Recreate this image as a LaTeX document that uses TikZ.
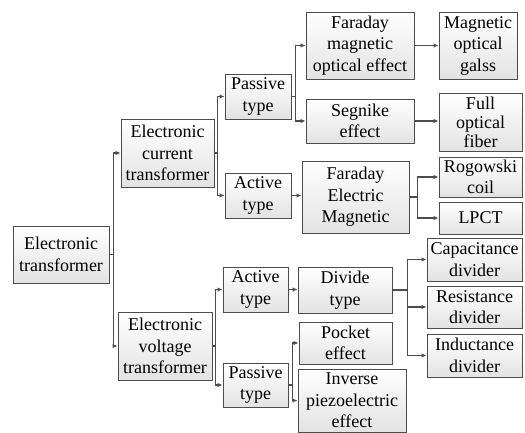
\documentclass[tikz,border=0pt]{standalone}
\usepackage{fontspec}
\setmainfont{Liberation Serif}
\usetikzlibrary{arrows.meta}

\begin{document}
\begin{tikzpicture}
        [x=1pt,y=-1pt,
         box/.style={draw=black!70,line width=0.9pt,top color=white,bottom color=black!11,
                     inner sep=0pt,align=center,font=\rmfamily\fontsize{18}{21.5}\selectfont},
         conn/.style={draw=black!70,line width=1.3pt,-{Latex[length=5pt,width=4.5pt]}}]
        \useasboundingbox (0,0) rectangle (525,433);

        \node[box,minimum width=96pt,minimum height=57pt] (et) at (61,254.5) {Electronic\\transformer};
        \node[box,minimum width=93pt,minimum height=68pt] (ect) at (167.5,153) {Electronic\\current\\transformer};
        \node[box,minimum width=94pt,minimum height=68pt] (evt) at (165,346) {Electronic\\voltage\\transformer};

        \node[box,minimum width=66pt,minimum height=45pt] (pas1) at (258,96.5) {Passive\\type};
        \node[box,minimum width=66pt,minimum height=45pt] (act1) at (258,195.5) {Active\\type};
        \node[box,minimum width=65pt,minimum height=45pt] (act2) at (255.5,289.5) {Active\\type};
        \node[box,minimum width=65pt,minimum height=44pt] (pas2) at (255.5,385) {Passive\\type};

        \node[box,minimum width=108pt,minimum height=67pt] (fmo) at (360,45.5) {Faraday\\magnetic\\optical effect};
        \node[box,minimum width=108pt,minimum height=44pt] (seg) at (360,121) {Segnike\\effect};
        \node[box,minimum width=107pt,minimum height=72pt] (fem) at (355.5,197) {Faraday\\Electric\\Magnetic};
        \node[box,minimum width=94pt,minimum height=46pt] (div) at (345,290) {Divide\\type};
        \node[box,minimum width=93pt,minimum height=42pt] (poc) at (345.5,343) {Pocket\\effect};
        \node[box,minimum width=108pt,minimum height=63pt] (inv) at (352,400.5) {Inverse\\piezoelectric\\effect};

        \node[box,minimum width=78pt,minimum height=67pt] (mog) at (478,45.5) {Magnetic\\optical\\galss};
        \node[box,minimum width=83pt,minimum height=58pt,font=\rmfamily\fontsize{18}{19}\selectfont] (fof) at (480.5,122) {Full\\optical\\fiber};
        \node[box,minimum width=83pt,minimum height=40pt] (rog) at (480.5,177) {Rogowski\\coil};
        \node[box,minimum width=83pt,minimum height=32pt] (lpct) at (480.5,218) {LPCT};
        \node[box,minimum width=95pt,minimum height=43pt] (cap) at (474.5,259.5) {Capacitance\\divider};
        \node[box,minimum width=95pt,minimum height=42pt] (res) at (474.5,307) {Resistance\\divider};
        \node[box,minimum width=95pt,minimum height=43pt] (ind) at (474.5,355.5) {Inductance\\divider};

        % elbow connectors
        \foreach \a/\b/\d in {et/ect/4,et/evt/4,ect/pas1/3,ect/act1/3,evt/act2/3,evt/pas2/3,
                              pas1/fmo/4,pas1/seg/4,fem/rog/8,fem/lpct/8,
                              div/cap/15,div/res/15,div/ind/15,pas2/poc/4,pas2/inv/4}
        {\draw[conn] (\a.east) -- ++(\d,0) |- (\b.west);}

        % straight connectors
        \foreach \a/\b in {act1/fem,fmo/mog,seg/fof,act2/div}
        {\draw[conn] (\a.east) -- (\a.east -| \b.west);}
      \end{tikzpicture}
\end{document}
